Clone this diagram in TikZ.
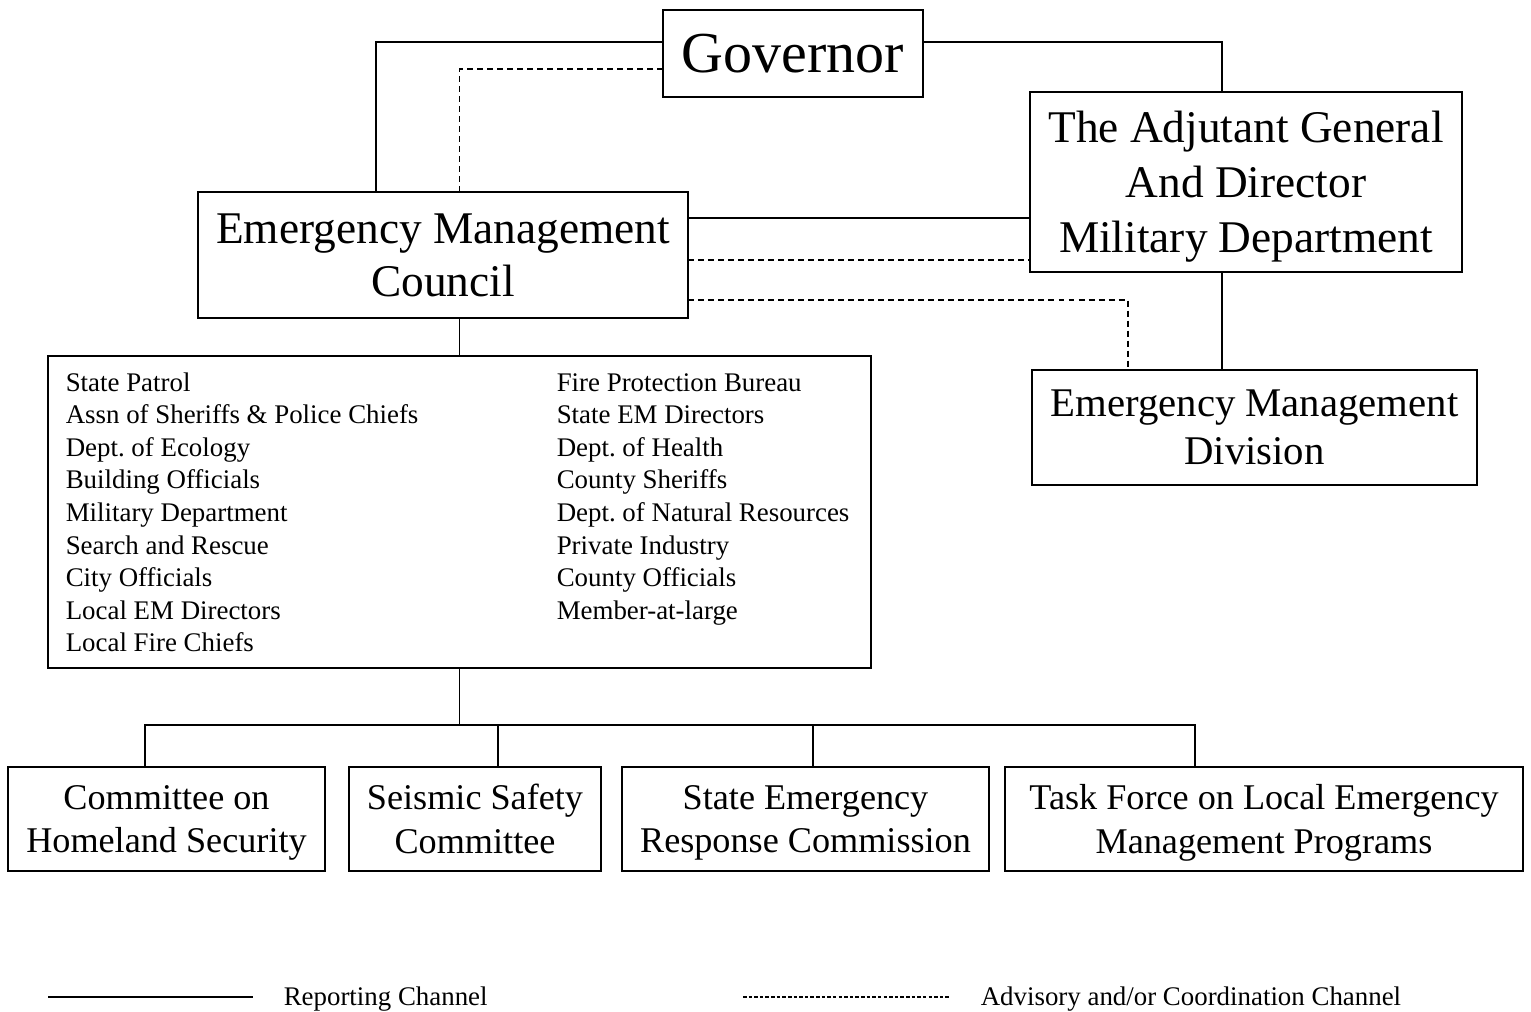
\documentclass[tikz,border=0pt]{standalone}
\usepackage{fontspec}
\setmainfont{Liberation Serif}
\newcommand{\fs}[2]{\fontsize{#1}{#2}\selectfont}

\begin{document}
\begin{tikzpicture}[x=0.02cm,y=-0.02cm,line width=0.9pt,
    box/.style={draw,line width=0.9pt,align=center,inner sep=0pt,outer sep=0pt,text depth=0pt},
    sub/.style={minimum height=2.08cm,font=\fs{20.6}{25}},
    adv/.style={dash pattern=on 3.4pt off 2.3pt},
    item/.style={anchor=base west,inner sep=0pt,font=\fs{15.3}{18.4}}]
    \useasboundingbox (0,0) rectangle (1531,1011);

    % Top of the chart
    \node[box,minimum width=5.2cm,minimum height=1.74cm,font=\fs{33}{40}] (gov) at (793,53.5) {Governor};
    \node[box,minimum width=8.64cm,minimum height=3.6cm,font=\fs{25.8}{31.2}] (adj) at (1246,182)
        {The Adjutant General\\And Director\\Military Department};
    \node[box,minimum width=9.8cm,minimum height=2.52cm,font=\fs{25.8}{30}] (emc) at (443,255)
        {Emergency Management\\Council};
    \node[box,minimum width=8.9cm,minimum height=2.3cm,font=\fs{23.2}{27.2}] (emd) at (1254.5,427.5)
        {Emergency Management\\Division};

    % Council members
    \node[box,minimum width=16.46cm,minimum height=6.24cm] (lst) at (459.5,512) {};
    \foreach \t [count=\i] in {State Patrol, Assn of Sheriffs \& Police Chiefs, Dept.\ of Ecology,
        Building Officials, Military Department, Search and Rescue, City Officials,
        Local EM Directors, Local Fire Chiefs}
      \node[item] (ml\i) at (65,{391+32.6*(\i-1)}) {\t};
    \foreach \t [count=\i] in {Fire Protection Bureau, State EM Directors, Dept.\ of Health,
        County Sheriffs, Dept.\ of Natural Resources, Private Industry, County Officials,
        Member-at-large}
      \node[item] (mr\i) at (556,{391+32.6*(\i-1)}) {\t};

    % Committees
    \node[box,sub,minimum width=6.34cm] (hs) at (166.5,819) {Committee on\\Homeland Security};
    \node[box,sub,minimum width=5.04cm] (ss) at (475,819) {Seismic Safety\\Committee};
    \node[box,sub,minimum width=7.34cm] (ser) at (805.5,819) {State Emergency\\Response Commission};
    \node[box,sub,minimum width=10.36cm] (tf) at (1264,819) {Task Force on Local Emergency\\Management Programs};

    % Reporting channels
    \draw ([yshift=0.23cm]gov.west) -| ([xshift=-1.34cm]emc.north);
    \draw ([yshift=0.23cm]gov.east) -| ([xshift=-0.48cm]adj.north);
    \path ([yshift=0.74cm]emc.east) coordinate (e1);
    \draw (e1) -- (e1 -| adj.west);
    \draw ([xshift=-0.48cm]adj.south) coordinate (a1) -- (a1 |- emd.north);
    \draw (lst.north |- emc.south) -- (lst.north);

    \coordinate (bus) at (459.5,725);
    \draw (lst.south) -- (bus);
    \draw ([xshift=-0.43cm]hs.north) |- (bus) -| ([xshift=-1.38cm]tf.north);
    \draw ([xshift=0.46cm]ss.north) coordinate (d2) -- (d2 |- bus);
    \draw ([xshift=0.15cm]ser.north) coordinate (d3) -- (d3 |- bus);

    % Advisory channels
    \draw[adv] ([yshift=-0.31cm]gov.west) -| (lst.north |- emc.north);
    \path ([yshift=-0.1cm]emc.east) coordinate (e2);
    \draw[adv] (e2) -- (e2 -| adj.west);
    \path ([yshift=-0.9cm]emc.east) coordinate (e3);
    \draw[adv] (e3) -| ([xshift=-2.53cm]emd.north);

    % Legend
    \coordinate (rs) at (48,997);
    \coordinate (re) at (253,997);
    \draw (rs) -- (re);
    \node[item] (rlab) at (283,1005) {Reporting Channel};
    \coordinate (as) at (743,997);
    \coordinate (ae) at (950,997);
    \draw[dash pattern=on 2pt off 1.2pt] (as) -- (ae);
    \node[item] (alab) at (980,1005) {Advisory and/or Coordination Channel};
\end{tikzpicture}
\end{document}
